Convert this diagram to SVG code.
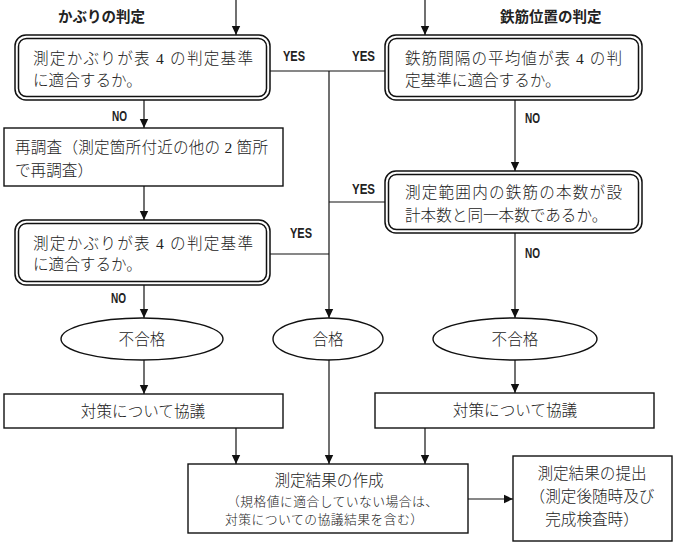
<svg xmlns="http://www.w3.org/2000/svg" width="681" height="545" viewBox="0 0 681 545">
<defs>
<marker id="ah" markerWidth="10" markerHeight="10" refX="9" refY="5" orient="auto" markerUnits="userSpaceOnUse">
<path d="M0,0.8 L9,5 L0,9.2 Z" fill="#111"/>
</marker>
</defs>
<style>
.t{font-family:"Liberation Serif","Noto Sans CJK JP",serif;font-size:15.6px;font-weight:300;fill:#222}
.s{font-family:"Liberation Serif","Noto Sans CJK JP",serif;font-size:12.8px;font-weight:300;fill:#222}
.h{font-family:"Liberation Sans","Noto Sans CJK JP",sans-serif;font-size:14.5px;font-weight:bold;fill:#222}
.yn{font-family:"Liberation Sans",sans-serif;font-size:15px;font-weight:bold;fill:#222}
.box{fill:#fff;stroke:#111;stroke-width:1.4}
.dbl{fill:none;stroke:#111;stroke-width:1.5}
.ln{fill:none;stroke:#111;stroke-width:1.2}
.ar{fill:none;stroke:#111;stroke-width:1.2;marker-end:url(#ah)}
</style>
<rect width="681" height="545" fill="#fff"/>

<g id="labels">
<text class="h" x="58" y="22">かぶりの判定</text>
<text class="h" x="500" y="22">鉄筋位置の判定</text>
<text class="yn" x="283" y="61" textLength="22" lengthAdjust="spacingAndGlyphs">YES</text>
<text class="yn" x="352" y="61" textLength="23" lengthAdjust="spacingAndGlyphs">YES</text>
<text class="yn" x="352" y="194" textLength="23" lengthAdjust="spacingAndGlyphs">YES</text>
<text class="yn" x="290" y="238" textLength="22" lengthAdjust="spacingAndGlyphs">YES</text>
<text class="yn" x="112" y="121" textLength="15" lengthAdjust="spacingAndGlyphs">NO</text>
<text class="yn" x="525" y="123" textLength="15" lengthAdjust="spacingAndGlyphs">NO</text>
<text class="yn" x="525" y="258" textLength="15" lengthAdjust="spacingAndGlyphs">NO</text>
<text class="yn" x="111" y="303" textLength="15" lengthAdjust="spacingAndGlyphs">NO</text>
</g>

<g id="connectors">
<line class="ar" x1="236" y1="0" x2="236" y2="35"/>
<line class="ar" x1="425" y1="0" x2="425" y2="35"/>
<line class="ar" x1="144" y1="100" x2="144" y2="128"/>
<polyline class="ln" points="270,71 329,71 385,71"/>
<line class="ar" x1="329" y1="71" x2="329" y2="318"/>
<line class="ln" x1="270" y1="254" x2="329" y2="254"/>
<line class="ln" x1="329" y1="202" x2="385" y2="202"/>
<line class="ar" x1="144" y1="186" x2="144" y2="220"/>
<line class="ar" x1="515" y1="100" x2="515" y2="171"/>
<line class="ar" x1="144" y1="285" x2="144" y2="318"/>
<line class="ar" x1="515" y1="233" x2="515" y2="318"/>
<line class="ar" x1="144" y1="360" x2="144" y2="394"/>
<line class="ar" x1="515" y1="360" x2="515" y2="393"/>
<line class="ar" x1="236" y1="428" x2="236" y2="464"/>
<line class="ar" x1="329" y1="360" x2="329" y2="464"/>
<line class="ar" x1="425" y1="428" x2="425" y2="464"/>
<line class="ar" x1="468" y1="499" x2="513" y2="499"/>
</g>

<g id="n1">
<rect class="dbl" x="15" y="35" width="255" height="65" rx="11"/>
<rect class="dbl" x="18.5" y="38.5" width="248" height="58" rx="8"/>
<text class="t" x="33" y="64" textLength="220" lengthAdjust="spacing">測定かぶりが表 4 の判定基準</text>
<text class="t" x="33" y="86">に適合するか。</text>
</g>

<g id="n2">
<rect class="box" x="4" y="128" width="279" height="58"/>
<text class="t" x="15" y="153" textLength="253" lengthAdjust="spacing">再調査（測定箇所付近の他の 2 箇所</text>
<text class="t" x="15" y="176">で再調査）</text>
</g>

<g id="n3">
<rect class="dbl" x="15" y="220" width="255" height="65" rx="11"/>
<rect class="dbl" x="18.5" y="223.5" width="248" height="58" rx="8"/>
<text class="t" x="33" y="249" textLength="220" lengthAdjust="spacing">測定かぶりが表 4 の判定基準</text>
<text class="t" x="33" y="270">に適合するか。</text>
</g>

<g id="n4">
<rect class="dbl" x="385" y="35" width="257" height="65" rx="11"/>
<rect class="dbl" x="388.5" y="38.5" width="250" height="58" rx="8"/>
<text class="t" x="405" y="64" textLength="217" lengthAdjust="spacing">鉄筋間隔の平均値が表 4 の判</text>
<text class="t" x="405" y="86">定基準に適合するか。</text>
</g>

<g id="n5">
<rect class="dbl" x="385" y="171" width="257" height="62" rx="11"/>
<rect class="dbl" x="388.5" y="174.5" width="250" height="55" rx="8"/>
<text class="t" x="405" y="198" textLength="217" lengthAdjust="spacing">測定範囲内の鉄筋の本数が設</text>
<text class="t" x="405" y="221">計本数と同一本数であるか。</text>
</g>

<g id="e1">
<ellipse class="box" cx="142" cy="339" rx="81" ry="21"/>
<text class="t" x="142" y="345" text-anchor="middle">不合格</text>
</g>
<g id="e2">
<ellipse class="box" cx="328" cy="339" rx="55" ry="21"/>
<text class="t" x="328" y="345" text-anchor="middle">合格</text>
</g>
<g id="e3">
<ellipse class="box" cx="515" cy="339" rx="82" ry="21"/>
<text class="t" x="515" y="345" text-anchor="middle">不合格</text>
</g>

<g id="n6">
<rect class="box" x="4" y="394" width="279" height="34"/>
<text class="t" x="143" y="417" text-anchor="middle">対策について協議</text>
</g>
<g id="n7">
<rect class="box" x="375" y="393" width="279" height="35"/>
<text class="t" x="515" y="416" text-anchor="middle">対策について協議</text>
</g>

<g id="n8">
<rect class="box" x="188" y="464" width="280" height="69"/>
<text class="t" x="329" y="486" text-anchor="middle">測定結果の作成</text>
<text class="s" x="227" y="506" textLength="211" lengthAdjust="spacing">（規格値に適合していない場合は、</text>
<text class="s" x="225" y="524" textLength="198" lengthAdjust="spacing">対策についての協議結果を含む）</text>
</g>

<g id="n9">
<rect class="box" x="513" y="456" width="159" height="85"/>
<text class="t" x="592" y="479" text-anchor="middle">測定結果の提出</text>
<text class="t" x="592" y="502" text-anchor="middle">（測定後随時及び</text>
<text class="t" x="592" y="525" text-anchor="middle">完成検査時）</text>
</g>
</svg>
